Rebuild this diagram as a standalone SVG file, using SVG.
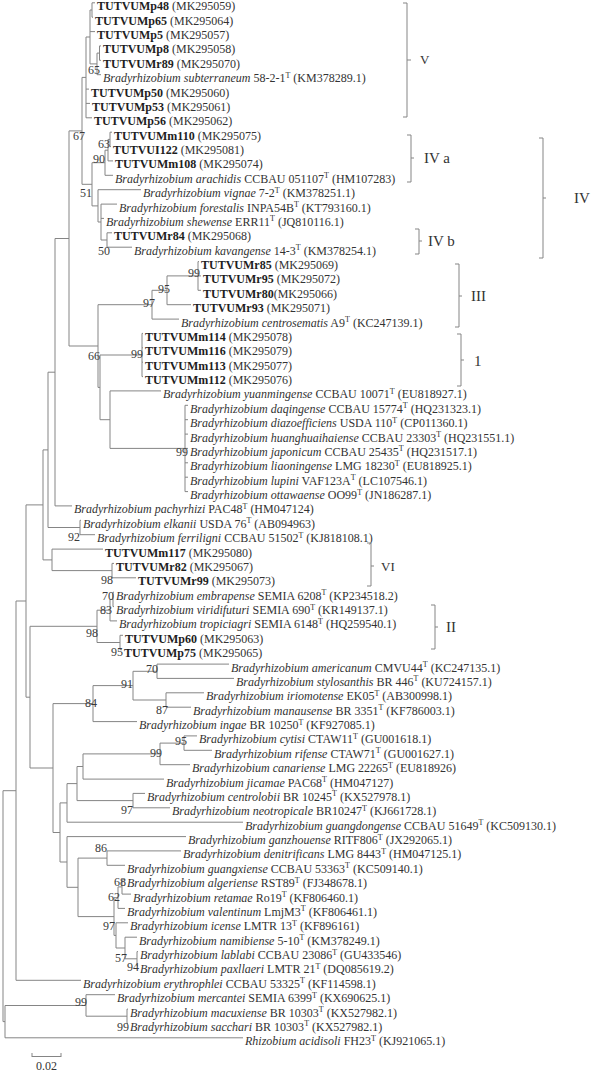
<svg xmlns="http://www.w3.org/2000/svg" width="592" height="1073" viewBox="0 0 592 1073">
<style>
text{font-family:"Liberation Serif","Times New Roman",serif;font-size:12px;fill:#333}
.b{font-weight:bold;fill:#1e1e1e}
.i{font-style:italic}
.s{font-size:8px}
.bs{text-anchor:end;fill:#3a3a3a}
.cl{font-size:15px;fill:#333}
.ln{stroke:#858585;stroke-width:1;fill:none}
.br{stroke:#858585;stroke-width:1;fill:none}
</style>
<rect width="592" height="1073" fill="#fff"/>
<g id="connectors" class="ln">
<path d="M92 2.8V17.2M92 2.8H95M92 17.2H93
M99.5 45.9V60.3M99.5 45.9H101M99.5 60.3H101
M97 53.1V74.7M97 53.1H99.5M97 74.7H101
M90 10V63.9M90 10H92M90 31.6H95M90 63.9H97
M86 37V117.8M86 37H90M86 89.1H89M86 103.4H90M86 117.8H92
M110 132.2V146.6M110 132.2H112M110 146.6H111
M108 139.4V160.9M108 139.4H110M108 160.9H113
M105 150.2V175.3M105 150.2H108M105 175.3H113
M107 232.8V247.2M107 232.8H112M107 247.2H132
M101 204.1V240M101 204.1H117M101 218.4H104M101 240H107
M98 189.7V222M98 189.7H141M98 222H101
M92 162.7V205.9M92 162.7H105M92 205.9H98
M82 77.4V184.3M82 77.4H86M82 184.3H92
M198 261.6V290.3M198 261.6H199M198 275.9H201M198 290.3H201
M167 275.9V304.7M167 275.9H198M167 304.7H191
M152 290.3V319.1M152 290.3H167M152 319.1H179
M142 333.4V376.6M142 333.4H143M142 347.8H143M142 362.2H143M142 376.6H143
M185 405.3V491.6M185 405.3H188M185 419.7H188M185 434.1H188M185 448.4H188M185 462.8H188M185 477.2H188M185 491.6H188
M110 390.9V448.4M110 390.9H161M110 448.4H185
M100 355V419.7M100 355H142M100 419.7H110
M98 304.7V387.4M98 304.7H152M98 387.4H100
M69 130.9V346M69 130.9H82M69 346H98
M55 238.5V505.9M55 238.5H69M55 505.9H72
M80 520.3V534.7M80 520.3H81M80 534.7H95
M48 372.2V527.5M48 372.2H55M48 527.5H80
M112 563.4V577.8M112 563.4H114M112 577.8H136
M52 549.1V570.6M52 549.1H103M52 570.6H112
M43 449.9V559.9M43 449.9H48M43 559.9H52
M113 592.2V606.6M113 592.2H114M113 606.6H114
M110 599.4V620.9M110 599.4H113M110 620.9H117
M120 635.3V649.7M120 635.3H123M120 649.7H122
M97 610.2V642.5M97 610.2H110M97 642.5H120
M157 664.1V678.4M157 664.1H229M157 678.4H234
M166 692.8V707.2M166 692.8H204M166 707.2H191
M133 671.3V700M133 671.3H157M133 700H166
M93 685.6V721.6M93 685.6H133M93 721.6H137
M184 735.9V750.3M184 735.9H197M184 750.3H212
M160 743.1V764.7M160 743.1H184M160 764.7H190
M83 753.9V779.1M83 753.9H160M83 779.1H164
M133 793.4V807.8M133 793.4H145M133 807.8H170
M77 766.5V800.6M77 766.5H83M77 800.6H133
M67 783.6V822.2M67 783.6H77M67 822.2H243
M107 850.9V865.3M107 850.9H181M107 865.3H125
M122 879.7V894.1M122 879.7H125M122 894.1H131
M118 886.9V908.4M118 886.9H122M118 908.4H125
M137 951.6V965.9M137 951.6H138M137 965.9H138
M125 937.2V958.8M125 937.2H137M125 958.8H137
M116 922.8V948M116 922.8H128M116 948H125
M114 897.7V935.4M114 897.7H118M114 935.4H116
M78 858.1V916.6M78 858.1H107M78 916.6H114
M67 836.6V887.3M67 836.6H186M67 887.3H78
M60 802.9V862M60 802.9H67M60 862H67
M53 703.6V832.5M53 703.6H93M53 832.5H60
M30 626.3V768M30 626.3H97M30 768H53
M26 504.9V697.2M26 504.9H43M26 697.2H30
M16 601V980.3M16 601H26M16 980.3H81
M127 1009.1V1023.4M127 1009.1H128M127 1023.4H128
M86 994.7V1016.2M86 994.7H115M86 1016.2H127
M5 1005.5V1037.8M5 1005.5H86M5 1037.8H243
M3 790.7V1021.6M3 790.7H16M3 1021.6H5"/>
</g>
<g id="bootstrap">
<text class="bs" x="100" y="74">65</text>
<text class="bs" x="85" y="140">67</text>
<text class="bs" x="110" y="148">63</text>
<text class="bs" x="105" y="163">90</text>
<text class="bs" x="92" y="197">51</text>
<text class="bs" x="110" y="255">50</text>
<text class="bs" x="200" y="277">99</text>
<text class="bs" x="170" y="293">95</text>
<text class="bs" x="155" y="307">97</text>
<text class="bs" x="143" y="358">99</text>
<text class="bs" x="100" y="360">66</text>
<text class="bs" x="188" y="456">99</text>
<text class="bs" x="80" y="541">92</text>
<text class="bs" x="113" y="584">98</text>
<text class="bs" x="114" y="600">70</text>
<text class="bs" x="112" y="614">83</text>
<text class="bs" x="98" y="637">98</text>
<text class="bs" x="123" y="656">95</text>
<text class="bs" x="158" y="673">70</text>
<text class="bs" x="133" y="688">91</text>
<text class="bs" x="97" y="707">84</text>
<text class="bs" x="168" y="714">87</text>
<text class="bs" x="187" y="745">95</text>
<text class="bs" x="162" y="757">99</text>
<text class="bs" x="133" y="814">97</text>
<text class="bs" x="107" y="852">86</text>
<text class="bs" x="126" y="886">68</text>
<text class="bs" x="120" y="901">62</text>
<text class="bs" x="115" y="930">97</text>
<text class="bs" x="127" y="962">57</text>
<text class="bs" x="139" y="971">94</text>
<text class="bs" x="87" y="1006">99</text>
<text class="bs" x="129" y="1031">99</text>
</g>
<g id="leaves">
<g id="n0"><text x="97" y="10.3"><tspan class="b">TUTVUMp48</tspan> (MK295059)</text></g>
<g id="n1"><text x="95" y="24.7"><tspan class="b">TUTVUMp65</tspan> (MK295064)</text></g>
<g id="n2"><text x="97" y="39.1"><tspan class="b">TUTVUMp5</tspan> (MK295057)</text></g>
<g id="n3"><text x="103" y="53.4"><tspan class="b">TUTVUMp8</tspan> (MK295058)</text></g>
<g id="n4"><text x="103" y="67.8"><tspan class="b">TUTVUMr89</tspan> (MK295070)</text></g>
<g id="n5"><text x="103" y="82.2"><tspan class="i">Bradyrhizobium subterraneum</tspan> 58-2-1<tspan class="s" dy="-4.5">T</tspan><tspan dy="4.5"> (KM378289.1)</tspan></text></g>
<g id="n6"><text x="91" y="96.6"><tspan class="b">TUTVUMp50</tspan> (MK295060)</text></g>
<g id="n7"><text x="92" y="110.9"><tspan class="b">TUTVUMp53</tspan> (MK295061)</text></g>
<g id="n8"><text x="94" y="125.3"><tspan class="b">TUTVUMp56</tspan> (MK295062)</text></g>
<g id="n9"><text x="114" y="139.7"><tspan class="b">TUTVUMm110</tspan> (MK295075)</text></g>
<g id="n10"><text x="113" y="154.1"><tspan class="b">TUTVUI122</tspan> (MK295081)</text></g>
<g id="n11"><text x="115" y="168.4"><tspan class="b">TUTVUMm108</tspan> (MK295074)</text></g>
<g id="n12"><text x="115" y="182.8"><tspan class="i">Bradyrhizobium arachidis</tspan> CCBAU 051107<tspan class="s" dy="-4.5">T</tspan><tspan dy="4.5"> (HM107283)</tspan></text></g>
<g id="n13"><text x="143" y="197.2"><tspan class="i">Bradyrhizobium vignae</tspan> 7-2<tspan class="s" dy="-4.5">T</tspan><tspan dy="4.5"> (KM378251.1)</tspan></text></g>
<g id="n14"><text x="119" y="211.6"><tspan class="i">Bradyrhizobium forestalis</tspan> INPA54B<tspan class="s" dy="-4.5">T</tspan><tspan dy="4.5"> (KT793160.1)</tspan></text></g>
<g id="n15"><text x="106" y="225.9"><tspan class="i">Bradyrhizobium shewense</tspan> ERR11<tspan class="s" dy="-4.5">T</tspan><tspan dy="4.5"> (JQ810116.1)</tspan></text></g>
<g id="n16"><text x="114" y="240.3"><tspan class="b">TUTVUMr84</tspan> (MK295068)</text></g>
<g id="n17"><text x="134" y="254.7"><tspan class="i">Bradyrhizobium kavangense</tspan> 14-3<tspan class="s" dy="-4.5">T</tspan><tspan dy="4.5"> (KM378254.1)</tspan></text></g>
<g id="n18"><text x="201" y="269.1"><tspan class="b">TUTVUMr85</tspan> (MK295069)</text></g>
<g id="n19"><text x="203" y="283.4"><tspan class="b">TUTVUMr95</tspan> (MK295072)</text></g>
<g id="n20"><text x="203" y="297.8"><tspan class="b">TUTVUMr80</tspan>(MK295066)</text></g>
<g id="n21"><text x="193" y="312.2"><tspan class="b">TUTVUMr93</tspan> (MK295071)</text></g>
<g id="n22"><text x="181" y="326.6"><tspan class="i">Bradyrhizobium centrosematis</tspan> A9<tspan class="s" dy="-4.5">T</tspan><tspan dy="4.5"> (KC247139.1)</tspan></text></g>
<g id="n23"><text x="145" y="340.9"><tspan class="b">TUTVUMm114</tspan> (MK295078)</text></g>
<g id="n24"><text x="145" y="355.3"><tspan class="b">TUTVUMm116</tspan> (MK295079)</text></g>
<g id="n25"><text x="145" y="369.7"><tspan class="b">TUTVUMm113</tspan> (MK295077)</text></g>
<g id="n26"><text x="145" y="384.1"><tspan class="b">TUTVUMm112</tspan> (MK295076)</text></g>
<g id="n27"><text x="163" y="398.4"><tspan class="i">Bradyrhizobium yuanmingense</tspan> CCBAU 10071<tspan class="s" dy="-4.5">T</tspan><tspan dy="4.5"> (EU818927.1)</tspan></text></g>
<g id="n28"><text x="190" y="412.8"><tspan class="i">Bradyrhizobium daqingense</tspan> CCBAU 15774<tspan class="s" dy="-4.5">T</tspan><tspan dy="4.5"> (HQ231323.1)</tspan></text></g>
<g id="n29"><text x="190" y="427.2"><tspan class="i">Bradyrhizobium diazoefficiens</tspan> USDA 110<tspan class="s" dy="-4.5">T</tspan><tspan dy="4.5"> (CP011360.1)</tspan></text></g>
<g id="n30"><text x="190" y="441.6"><tspan class="i">Bradyrhizobium huanghuaihaiense</tspan> CCBAU 23303<tspan class="s" dy="-4.5">T</tspan><tspan dy="4.5"> (HQ231551.1)</tspan></text></g>
<g id="n31"><text x="190" y="455.9"><tspan class="i">Bradyrhizobium japonicum</tspan> CCBAU 25435<tspan class="s" dy="-4.5">T</tspan><tspan dy="4.5"> (HQ231517.1)</tspan></text></g>
<g id="n32"><text x="190" y="470.3"><tspan class="i">Bradyrhizobium liaoningense</tspan> LMG 18230<tspan class="s" dy="-4.5">T</tspan><tspan dy="4.5"> (EU818925.1)</tspan></text></g>
<g id="n33"><text x="190" y="484.7"><tspan class="i">Bradyrhizobium lupini</tspan> VAF123A<tspan class="s" dy="-4.5">T</tspan><tspan dy="4.5"> (LC107546.1)</tspan></text></g>
<g id="n34"><text x="190" y="499.1"><tspan class="i">Bradyrhizobium ottawaense</tspan> OO99<tspan class="s" dy="-4.5">T</tspan><tspan dy="4.5"> (JN186287.1)</tspan></text></g>
<g id="n35"><text x="74" y="513.4"><tspan class="i">Bradyrhizobium pachyrhizi</tspan> PAC48<tspan class="s" dy="-4.5">T</tspan><tspan dy="4.5"> (HM047124)</tspan></text></g>
<g id="n36"><text x="83" y="527.8"><tspan class="i">Bradyrhizobium elkanii</tspan> USDA 76<tspan class="s" dy="-4.5">T</tspan><tspan dy="4.5"> (AB094963)</tspan></text></g>
<g id="n37"><text x="97" y="542.2"><tspan class="i">Bradyrhizobium ferriligni</tspan> CCBAU 51502<tspan class="s" dy="-4.5">T</tspan><tspan dy="4.5"> (KJ818108.1)</tspan></text></g>
<g id="n38"><text x="105" y="556.6"><tspan class="b">TUTVUMm117</tspan> (MK295080)</text></g>
<g id="n39"><text x="116" y="570.9"><tspan class="b">TUTVUMr82</tspan> (MK295067)</text></g>
<g id="n40"><text x="138" y="585.3"><tspan class="b">TUTVUMr99</tspan> (MK295073)</text></g>
<g id="n41"><text x="116" y="599.7"><tspan class="i">Bradyrhizobium embrapense</tspan> SEMIA 6208<tspan class="s" dy="-4.5">T</tspan><tspan dy="4.5"> (KP234518.2)</tspan></text></g>
<g id="n42"><text x="116" y="614.1"><tspan class="i">Bradyrhizobium viridifuturi</tspan> SEMIA 690<tspan class="s" dy="-4.5">T</tspan><tspan dy="4.5"> (KR149137.1)</tspan></text></g>
<g id="n43"><text x="119" y="628.4"><tspan class="i">Bradyrhizobium tropiciagri</tspan> SEMIA 6148<tspan class="s" dy="-4.5">T</tspan><tspan dy="4.5"> (HQ259540.1)</tspan></text></g>
<g id="n44"><text x="125" y="642.8"><tspan class="b">TUTVUMp60</tspan> (MK295063)</text></g>
<g id="n45"><text x="124" y="657.2"><tspan class="b">TUTVUMp75</tspan> (MK295065)</text></g>
<g id="n46"><text x="231" y="671.6"><tspan class="i">Bradyrhizobium americanum</tspan> CMVU44<tspan class="s" dy="-4.5">T</tspan><tspan dy="4.5"> (KC247135.1)</tspan></text></g>
<g id="n47"><text x="236" y="685.9"><tspan class="i">Bradyrhizobium stylosanthis</tspan> BR 446<tspan class="s" dy="-4.5">T</tspan><tspan dy="4.5"> (KU724157.1)</tspan></text></g>
<g id="n48"><text x="206" y="700.3"><tspan class="i">Bradyrhizobium iriomotense</tspan> EK05<tspan class="s" dy="-4.5">T</tspan><tspan dy="4.5"> (AB300998.1)</tspan></text></g>
<g id="n49"><text x="193" y="714.7"><tspan class="i">Bradyrhizobium manausense</tspan> BR 3351<tspan class="s" dy="-4.5">T</tspan><tspan dy="4.5"> (KF786003.1)</tspan></text></g>
<g id="n50"><text x="139" y="729.1"><tspan class="i">Bradyrhizobium ingae</tspan> BR 10250<tspan class="s" dy="-4.5">T</tspan><tspan dy="4.5"> (KF927085.1)</tspan></text></g>
<g id="n51"><text x="199" y="743.4"><tspan class="i">Bradyrhizobium cytisi</tspan> CTAW11<tspan class="s" dy="-4.5">T</tspan><tspan dy="4.5"> (GU001618.1)</tspan></text></g>
<g id="n52"><text x="214" y="757.8"><tspan class="i">Bradyrhizobium rifense</tspan> CTAW71<tspan class="s" dy="-4.5">T</tspan><tspan dy="4.5"> (GU001627.1)</tspan></text></g>
<g id="n53"><text x="192" y="772.2"><tspan class="i">Bradyrhizobium canariense</tspan> LMG 22265<tspan class="s" dy="-4.5">T</tspan><tspan dy="4.5"> (EU818926)</tspan></text></g>
<g id="n54"><text x="166" y="786.6"><tspan class="i">Bradyrhizobium jicamae</tspan> PAC68<tspan class="s" dy="-4.5">T</tspan><tspan dy="4.5"> (HM047127)</tspan></text></g>
<g id="n55"><text x="147" y="800.9"><tspan class="i">Bradyrhizobium centrolobii</tspan> BR 10245<tspan class="s" dy="-4.5">T</tspan><tspan dy="4.5"> (KX527978.1)</tspan></text></g>
<g id="n56"><text x="172" y="815.3"><tspan class="i">Bradyrhizobium neotropicale</tspan> BR10247<tspan class="s" dy="-4.5">T</tspan><tspan dy="4.5"> (KJ661728.1)</tspan></text></g>
<g id="n57"><text x="245" y="829.7"><tspan class="i">Bradyrhizobium guangdongense</tspan> CCBAU 51649<tspan class="s" dy="-4.5">T</tspan><tspan dy="4.5"> (KC509130.1)</tspan></text></g>
<g id="n58"><text x="188" y="844.1"><tspan class="i">Bradyrhizobium ganzhouense</tspan> RITF806<tspan class="s" dy="-4.5">T</tspan><tspan dy="4.5"> (JX292065.1)</tspan></text></g>
<g id="n59"><text x="183" y="858.4"><tspan class="i">Bradyrhizobium denitrificans</tspan> LMG 8443<tspan class="s" dy="-4.5">T</tspan><tspan dy="4.5"> (HM047125.1)</tspan></text></g>
<g id="n60"><text x="127" y="872.8"><tspan class="i">Bradyrhizobium guangxiense</tspan> CCBAU 53363<tspan class="s" dy="-4.5">T</tspan><tspan dy="4.5"> (KC509140.1)</tspan></text></g>
<g id="n61"><text x="127" y="887.2"><tspan class="i">Bradyrhizobium algeriense</tspan> RST89<tspan class="s" dy="-4.5">T</tspan><tspan dy="4.5"> (FJ348678.1)</tspan></text></g>
<g id="n62"><text x="133" y="901.6"><tspan class="i">Bradyrhizobium retamae</tspan> Ro19<tspan class="s" dy="-4.5">T</tspan><tspan dy="4.5"> (KF806460.1)</tspan></text></g>
<g id="n63"><text x="127" y="915.9"><tspan class="i">Bradyrhizobium valentinum</tspan> LmjM3<tspan class="s" dy="-4.5">T</tspan><tspan dy="4.5"> (KF806461.1)</tspan></text></g>
<g id="n64"><text x="130" y="930.3"><tspan class="i">Bradyrhizobium icense</tspan> LMTR 13<tspan class="s" dy="-4.5">T</tspan><tspan dy="4.5"> (KF896161)</tspan></text></g>
<g id="n65"><text x="139" y="944.7"><tspan class="i">Bradyrhizobium namibiense</tspan> 5-10<tspan class="s" dy="-4.5">T</tspan><tspan dy="4.5"> (KM378249.1)</tspan></text></g>
<g id="n66"><text x="140" y="959.1"><tspan class="i">Bradyrhizobium lablabi</tspan> CCBAU 23086<tspan class="s" dy="-4.5">T</tspan><tspan dy="4.5"> (GU433546)</tspan></text></g>
<g id="n67"><text x="140" y="973.4"><tspan class="i">Bradyrhizobium paxllaeri</tspan> LMTR 21<tspan class="s" dy="-4.5">T</tspan><tspan dy="4.5"> (DQ085619.2)</tspan></text></g>
<g id="n68"><text x="83" y="987.8"><tspan class="i">Bradyrhizobium erythrophlei</tspan> CCBAU 53325<tspan class="s" dy="-4.5">T</tspan><tspan dy="4.5"> (KF114598.1)</tspan></text></g>
<g id="n69"><text x="117" y="1002.2"><tspan class="i">Bradyrhizobium mercantei</tspan> SEMIA 6399<tspan class="s" dy="-4.5">T</tspan><tspan dy="4.5"> (KX690625.1)</tspan></text></g>
<g id="n70"><text x="130" y="1016.6"><tspan class="i">Bradyrhizobium macuxiense</tspan> BR 10303<tspan class="s" dy="-4.5">T</tspan><tspan dy="4.5"> (KX527982.1)</tspan></text></g>
<g id="n71"><text x="130" y="1030.9"><tspan class="i">Bradyrhizobium sacchari</tspan> BR 10303<tspan class="s" dy="-4.5">T</tspan><tspan dy="4.5"> (KX527982.1)</tspan></text></g>
<g id="n72"><text x="245" y="1045.3"><tspan class="i">Rhizobium acidisoli</tspan> FH23<tspan class="s" dy="-4.5">T</tspan><tspan dy="4.5"> (KJ921065.1)</tspan></text></g>
</g>
<g id="clades">
<g id="clade-V"><path class="br" d="M403 3H407V117H403M407 60H411"/><text class="cl" x="420" y="64" style="font-size:13px">V</text></g>
<g id="clade-IVa"><path class="br" d="M407 135H411V182H407M411 158H414"/><text class="cl" x="424" y="163">IV a</text></g>
<g id="clade-IV"><path class="br" d="M539 138H543V258H539M543 198H546"/><text class="cl" x="574" y="203">IV</text></g>
<g id="clade-IVb"><path class="br" d="M415 229H419V254H415M419 241H422"/><text class="cl" x="428" y="246">IV b</text></g>
<g id="clade-III"><path class="br" d="M455 264H459V327H455M459 296H462"/><text class="cl" x="471" y="301">III</text></g>
<g id="clade-I"><path class="br" d="M457 334H461V386H457M461 360H464"/><text class="cl" x="474" y="366">1</text></g>
<g id="clade-VI"><path class="br" d="M367 543H371V586H367M371 566H374"/><text class="cl" x="381" y="571" style="font-size:13px">VI</text></g>
<g id="clade-II"><path class="br" d="M431 605H435V649H431M435 627H438"/><text class="cl" x="446" y="632">II</text></g>
</g>
<g id="scale">
<path class="ln" d="M32 1056.5H61M32 1053V1057M61 1053V1057"/>
<text x="46.5" y="1070" text-anchor="middle">0.02</text>
</g>
</svg>
